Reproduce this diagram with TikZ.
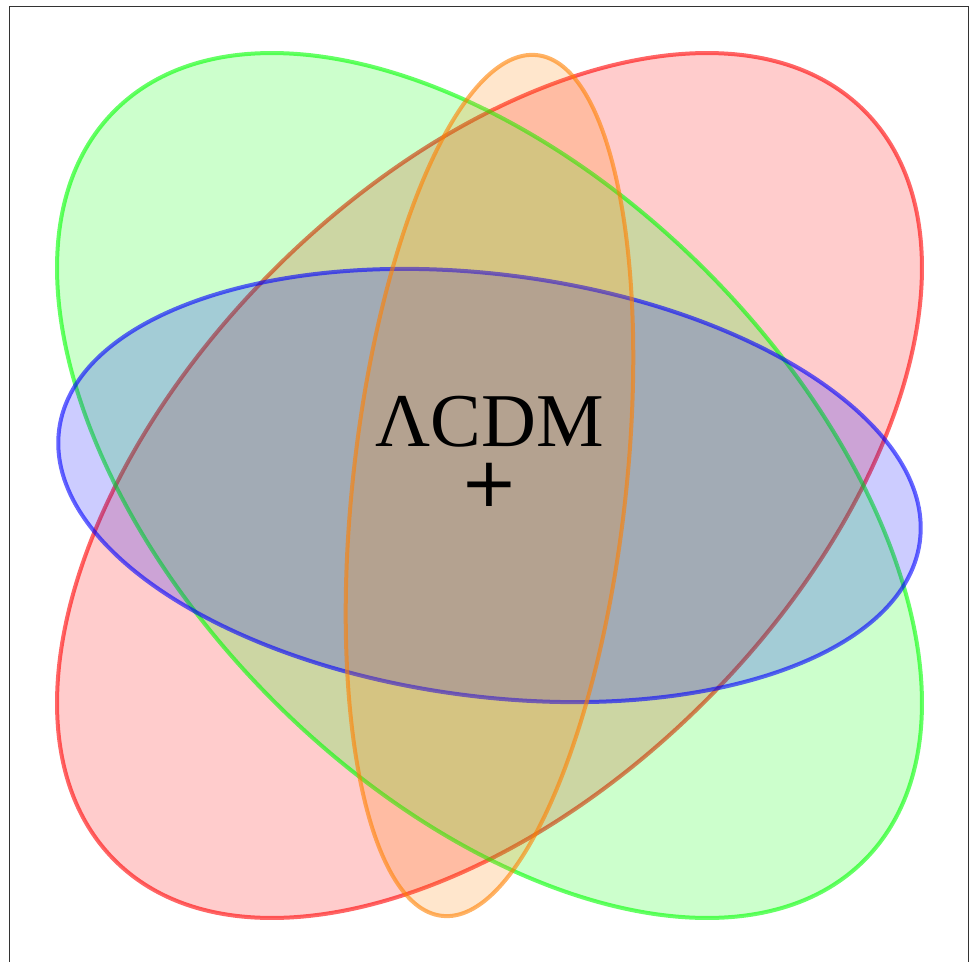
\documentclass[tikz,border=0pt]{standalone}
\usepackage{fontspec}
\setmainfont{Liberation Serif}
\newfontfamily\plusfont{DejaVu Sans}
\begin{document}
\begin{tikzpicture}[x=1pt,y=-1pt,
  venn/.style={line width=4pt, draw opacity=0.6, fill opacity=0.2},
  frameline/.style={draw=black!80, line width=1pt}]
\useasboundingbox (0,0) rectangle (969,961);
\coordinate (c) at (489.5,485.5);
% red
\filldraw[venn, draw=red, fill=red, rotate around={45:(c)}] (c) ellipse [x radius=530pt, y radius=305pt];
% green
\filldraw[venn, draw=green, fill=green, rotate around={-45:(c)}] (c) ellipse [x radius=530pt, y radius=305pt];
% blue
\filldraw[venn, draw=blue, fill=blue, rotate around={-7.4:(c)}] (c) ellipse [x radius=434pt, y radius=211pt];
% orange
\filldraw[venn, draw=orange, fill=orange, rotate around={-6.3:(c)}] (c) ellipse [x radius=136.5pt, y radius=433pt];
% labels
\node[anchor=base, inner sep=0pt, font=\fontsize{76}{76}\selectfont] (lcdm) at (489.5,446.7) {ΛCDM};
\node[anchor=center, inner sep=0pt, font=\plusfont\fontsize{69}{69}\selectfont] (plus) at (489.5,485.3) {+};
% frame
\draw[frameline] (9.3,962) -- (9.3,6) -- (968.3,6) -- (968.3,962);
\end{tikzpicture}
\end{document}
